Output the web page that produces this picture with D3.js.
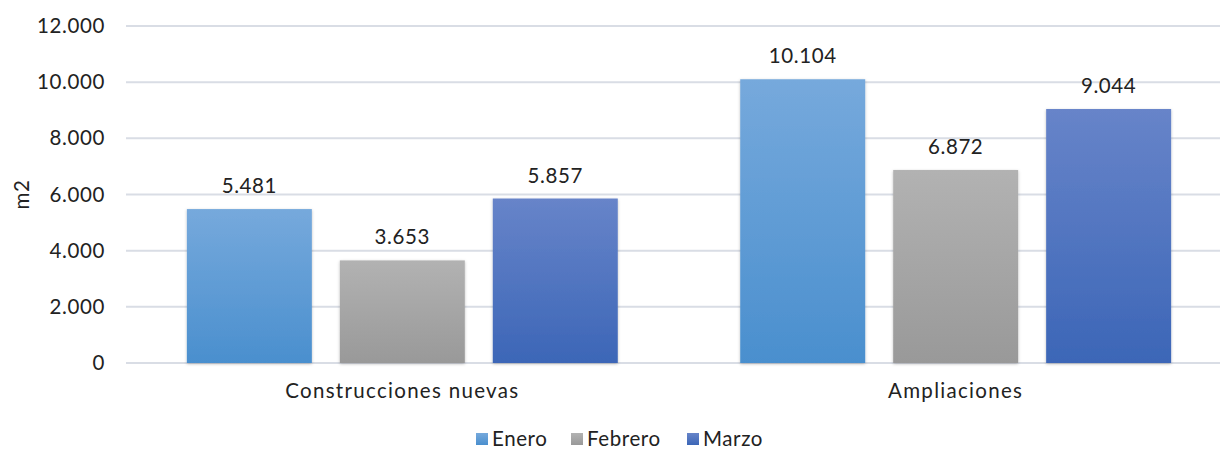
<!DOCTYPE html>
<meta charset="utf-8">
<style>
    body { margin: 0; background: #fff; }
    svg { font-family: Lato, sans-serif; }
    .grid line { stroke: #d9dde5; stroke-width: 2; }
    .tick text { fill: #222; }
</style>
<body>
<script src="https://cdnjs.cloudflare.com/ajax/libs/d3/7.8.5/d3.min.js"></script>
<script>
    // data
    const categories = ["Construcciones nuevas", "Ampliaciones"];
    const months = ["Enero", "Febrero", "Marzo"];
    const enero = [5481, 10104];
    const febrero = [3653, 6872];
    const marzo = [5857, 9044];
    const yTicks = [0, 2000, 4000, 6000, 8000, 10000, 12000];

    const width = 1220, height = 450;
    const margin = {top: 26, right: -12, bottom: 87, left: 126};
    const fontSize = "20.5px";
    const spacing = "0.6px";

    const rows = categories.map((c, i) => ({
        cat: c,
        values: [enero[i], febrero[i], marzo[i]]
    }));

    const fmt = d3.formatLocale({decimal: ",", thousands: ".", grouping: [3]}).format(",");

    const svg = d3.select("body").append("svg")
        .attr("width", width)
        .attr("height", height);

    const defs = svg.append("defs");
    const grads = [["#76a9dc", "#4a8fce"], ["#b2b2b2", "#999999"], ["#6784c9", "#3c66b7"]];
    grads.forEach((g, i) => {
        const lg = defs.append("linearGradient")
            .attr("id", "g" + i)
            .attr("x1", 0).attr("y1", 0).attr("x2", 0).attr("y2", 1);
        lg.append("stop").attr("offset", "0%").attr("stop-color", g[0]);
        lg.append("stop").attr("offset", "100%").attr("stop-color", g[1]);
    });
    const shadow = defs.append("filter").attr("id", "shadow")
        .attr("x", "-10%").attr("y", "-10%").attr("width", "120%").attr("height", "120%");
    shadow.append("feDropShadow").attr("dx", 0).attr("dy", 1).attr("stdDeviation", 1.5)
        .attr("flood-color", "#000").attr("flood-opacity", 0.25);

    const x0 = d3.scaleBand()
        .domain(categories)
        .range([margin.left, width - margin.right])
        .paddingInner(0.2213)
        .paddingOuter(0.11);

    const x1 = d3.scaleBand()
        .domain(months)
        .range([0, x0.bandwidth()])
        .paddingInner(0.183)
        .paddingOuter(0);

    const y = d3.scaleLinear()
        .domain([0, 12000])
        .range([height - margin.bottom, margin.top]);

    // gridlines
    svg.append("g").attr("class", "grid")
        .selectAll("line")
        .data(yTicks)
        .enter().append("line")
        .attr("x1", margin.left)
        .attr("x2", width)
        .attr("y1", d => y(d))
        .attr("y2", d => y(d));

    // y axis
    const yAxis = svg.append("g")
        .attr("transform", "translate(" + margin.left + ",0)")
        .call(d3.axisLeft(y).tickValues(yTicks).tickSize(0).tickPadding(21).tickFormat(fmt));
    yAxis.select(".domain").remove();
    yAxis.selectAll("text").style("font-size", fontSize).style("letter-spacing", spacing)
        .attr("font-family", "Lato, sans-serif");

    svg.append("text")
        .attr("transform", "translate(29," + y(6000) + ") rotate(-90)")
        .attr("text-anchor", "middle")
        .style("font-size", fontSize)
        .style("letter-spacing", spacing)
        .attr("fill", "#222")
        .text("m2");

    // bars
    const groups = svg.selectAll(".group")
        .data(rows)
        .enter().append("g")
        .attr("class", "group")
        .attr("transform", d => "translate(" + x0(d.cat) + ",0)");

    groups.selectAll("rect")
        .data(d => d.values.map((v, i) => ({m: months[i], v: v, i: i})))
        .enter().append("rect")
        .attr("x", d => x1(d.m))
        .attr("width", x1.bandwidth())
        .attr("y", d => y(d.v))
        .attr("height", d => y(0) - y(d.v))
        .attr("fill", d => "url(#g" + d.i + ")")
        .attr("filter", "url(#shadow)");

    groups.selectAll(".lbl")
        .data(d => d.values.map((v, i) => ({m: months[i], v: v})))
        .enter().append("text")
        .attr("class", "lbl")
        .attr("x", d => x1(d.m) + x1.bandwidth() / 2)
        .attr("y", d => y(d.v) - 16)
        .attr("text-anchor", "middle")
        .style("font-size", fontSize)
        .style("letter-spacing", spacing)
        .attr("fill", "#222")
        .text(d => fmt(d.v));

    // x axis labels
    const xAxis = svg.append("g")
        .attr("transform", "translate(0," + y(0) + ")")
        .call(d3.axisBottom(x0).tickSize(0).tickPadding(20));
    xAxis.select(".domain").remove();
    xAxis.selectAll("text").style("font-size", fontSize).style("letter-spacing", "1.3px")
        .attr("font-family", "Lato, sans-serif");

    // legend
    const legendX = [476, 571, 687];
    const legend = svg.selectAll(".legend")
        .data(months)
        .enter().append("g")
        .attr("class", "legend")
        .attr("transform", (d, i) => "translate(" + legendX[i] + ",433)");
    legend.append("rect")
        .attr("width", 12).attr("height", 12)
        .attr("fill", (d, i) => "url(#g" + i + ")");
    legend.append("text")
        .attr("x", 16).attr("y", 6).attr("dy", "0.35em")
        .style("font-size", fontSize)
        .style("letter-spacing", spacing)
        .attr("fill", "#222")
        .text(d => d);
</script>
</body>
</html>
